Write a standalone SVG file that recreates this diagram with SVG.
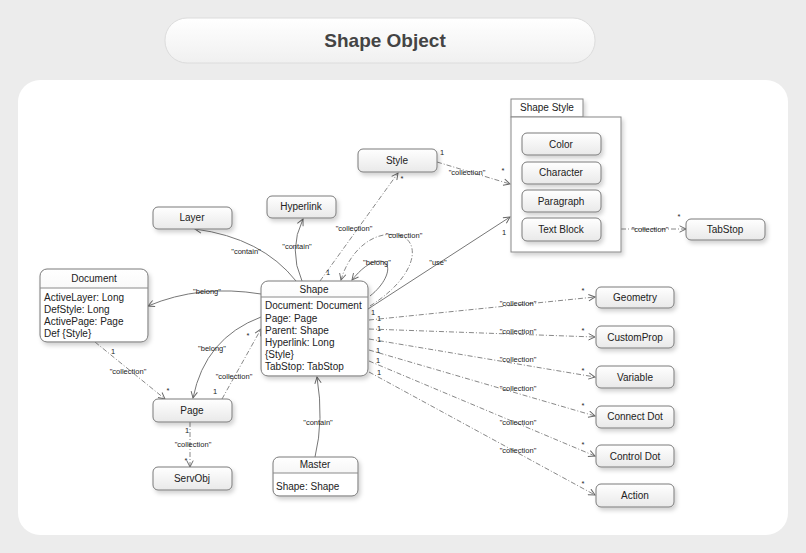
<svg xmlns="http://www.w3.org/2000/svg" width="806" height="553" viewBox="0 0 806 553">
<style>
.node{fill:url(#ng);stroke:#7a7a7a;stroke-width:1;filter:url(#sh)}
.body{fill:#fff;stroke:none}
.sep{stroke:#8a8a8a;stroke-width:1}
.t{font-family:"Liberation Sans",Arial,sans-serif;font-size:10px;fill:#222;text-anchor:middle}
.a{font-family:"Liberation Sans",Arial,sans-serif;font-size:10px;fill:#222}
.l{font-family:"Liberation Sans",Arial,sans-serif;font-size:7.5px;fill:#222;text-anchor:middle}
.s{fill:none;stroke:#777;stroke-width:1;marker-end:url(#ar)}
.d{fill:none;stroke:#888;stroke-width:1;stroke-dasharray:5 2 1 2;marker-end:url(#ar)}
</style>
<defs>
<linearGradient id="ng" x1="0" y1="0" x2="0" y2="1"><stop offset="0" stop-color="#ffffff"/><stop offset="1" stop-color="#e9e9e9"/></linearGradient>
<linearGradient id="tg" x1="0" y1="0" x2="0" y2="1"><stop offset="0" stop-color="#ffffff"/><stop offset="1" stop-color="#f0f0f0"/></linearGradient>
<filter id="sh" x="-20%" y="-20%" width="150%" height="160%"><feDropShadow dx="2" dy="3" stdDeviation="2" flood-color="#000" flood-opacity="0.18"/></filter>
<marker id="ar" viewBox="0 0 10 10" refX="9" refY="5" markerWidth="8" markerHeight="8" markerUnits="userSpaceOnUse" orient="auto"><path d="M1,1 L9,5 L1,9" fill="none" stroke="#666" stroke-width="1.2"/></marker>
</defs>
<rect x="0" y="0" width="806" height="553" fill="#ececec"/>
<rect x="18" y="80" width="770" height="455" rx="22" fill="#ffffff"/>
<g id="title">
<rect x="165" y="18" width="430" height="45" rx="22" fill="url(#tg)" stroke="#dcdcdc"/>
<text x="385" y="47" font-family="Liberation Sans,Arial,sans-serif" font-size="19" font-weight="bold" fill="#444" text-anchor="middle">Shape Object</text>
</g>
<g id="connectors">
<path class="s" d="M296,281 Q262,238 195,229"/>
<text class="l" x="246" y="254">"contain"</text>
<path class="s" d="M302,281 Q288,250 303,219"/>
<text class="l" x="297" y="249">"contain"</text>
<path class="d" d="M320,281 L398,173"/>
<text class="l" x="354" y="231">"collection"</text>
<text class="l" x="328" y="275">1</text>
<text class="l" x="402" y="181">*</text>
<path class="d" d="M370,306 C418,276 422,240 398,235 C370,230 348,255 341,280"/>
<text class="l" x="404" y="238">"collection"</text>
<path class="s" d="M370,296 C388,282 394,262 380,261 C370,261 360,270 352,280"/>
<text class="l" x="377" y="265">"belong"</text>
<path class="s" d="M368,309 L510,217"/>
<text class="l" x="438" y="265">"use"</text>
<text class="l" x="504" y="235">1</text>
<path class="d" d="M437,162 L510,184"/>
<text class="l" x="467" y="175">"collection"</text>
<text class="l" x="442" y="155">1</text>
<text class="l" x="503" y="173">*</text>
<path class="d" d="M601,229 L686,229"/>
<text class="l" x="650" y="232">"collection"</text>
<text class="l" x="613" y="224">1</text>
<text class="l" x="679" y="219">*</text>
<path class="s" d="M261,294 Q200,284 148,306"/>
<text class="l" x="207" y="294">"belong"</text>
<path class="s" d="M261,317 Q205,338 193,398"/>
<text class="l" x="212" y="351">"belong"</text>
<path class="d" d="M222,399 L261,329"/>
<text class="l" x="234" y="379">"collection"</text>
<text class="l" x="215" y="394">1</text>
<text class="l" x="248" y="338">*</text>
<path class="d" d="M95,342 L165,399"/>
<text class="l" x="128" y="374">"collection"</text>
<text class="l" x="113" y="354">1</text>
<text class="l" x="168" y="393">*</text>
<path class="d" d="M190,422 L190,467"/>
<text class="l" x="193" y="447">"collection"</text>
<text class="l" x="187" y="433">1</text>
<text class="l" x="186" y="463">*</text>
<path class="s" d="M315,457 Q324,420 317,377"/>
<text class="l" x="318" y="425">"contain"</text>
<path class="d" d="M369,320 L595,297"/>
<path class="d" d="M369,329 L595,337"/>
<path class="d" d="M369,339 L595,377"/>
<path class="d" d="M369,350 L595,416"/>
<path class="d" d="M369,361 L595,456"/>
<path class="d" d="M369,372 L595,495"/>
<text class="l" x="518" y="306">"collection"</text>
<text class="l" x="518" y="334">"collection"</text>
<text class="l" x="518" y="362">"collection"</text>
<text class="l" x="518" y="391">"collection"</text>
<text class="l" x="518" y="425">"collection"</text>
<text class="l" x="518" y="453">"collection"</text>
<text class="l" x="583" y="293">*</text>
<text class="l" x="583" y="333">*</text>
<text class="l" x="583" y="373">*</text>
<text class="l" x="583" y="408">*</text>
<text class="l" x="583" y="447">*</text>
<text class="l" x="583" y="486">*</text>
<text class="l" x="373" y="315">1</text>
<text class="l" x="379" y="321">1</text>
<text class="l" x="379" y="331">1</text>
<text class="l" x="379" y="342">1</text>
<text class="l" x="378" y="353">1</text>
<text class="l" x="378" y="363">1</text>
<text class="l" x="379" y="375">1</text>
</g>
<g id="style"><rect class="node" x="358" y="149" width="79" height="23" rx="5"/><text class="t" x="397" y="164">Style</text></g>
<g id="shape-style">
<rect x="511" y="99" width="72" height="18" fill="#fff" stroke="#888" filter="url(#sh)"/>
<rect x="511" y="117" width="110" height="135" fill="#fff" stroke="#888" filter="url(#sh)"/>
<text class="a" x="520" y="111" font-size="9">Shape Style</text>
</g>
<g id="color"><rect class="node" x="522" y="133" width="79" height="22" rx="5"/><text class="t" x="561" y="148">Color</text></g>
<g id="character"><rect class="node" x="522" y="162" width="79" height="22" rx="5"/><text class="t" x="561" y="176">Character</text></g>
<g id="paragraph"><rect class="node" x="522" y="190" width="79" height="22" rx="5"/><text class="t" x="561" y="205">Paragraph</text></g>
<g id="textblock"><rect class="node" x="522" y="218" width="79" height="23" rx="5"/><text class="t" x="561" y="233">Text Block</text></g>
<g id="tabstop"><rect class="node" x="686" y="219" width="79" height="21" rx="5"/><text class="t" x="725" y="233">TabStop</text></g>
<g id="layer"><rect class="node" x="153" y="207" width="79" height="22" rx="5"/><text class="t" x="192" y="221">Layer</text></g>
<g id="hyperlink"><rect class="node" x="267" y="196" width="69" height="22" rx="5"/><text class="t" x="301" y="210">Hyperlink</text></g>
<g id="shape">
<rect class="node" x="261" y="281" width="107" height="95" rx="7"/>
<path class="body" d="M262,297 H367 V369 Q367,375 361,375 H268 Q262,375 262,369 Z"/>
<line class="sep" x1="261" y1="297" x2="368" y2="297"/>
<text class="t" x="314" y="293">Shape</text>
<text class="a" x="265" y="309">Document: Document</text>
<text class="a" x="265" y="322">Page: Page</text>
<text class="a" x="265" y="334">Parent: Shape</text>
<text class="a" x="265" y="346">Hyperlink: Long</text>
<text class="a" x="265" y="358">{Style}</text>
<text class="a" x="265" y="370">TabStop: TabStop</text>
</g>
<g id="document">
<rect class="node" x="40" y="269" width="108" height="73" rx="7"/>
<path class="body" d="M41,288 H147 V335 Q147,341 141,341 H47 Q41,341 41,335 Z"/>
<line class="sep" x1="40" y1="288" x2="148" y2="288"/>
<text class="t" x="94" y="282">Document</text>
<text class="a" x="44" y="301">ActiveLayer: Long</text>
<text class="a" x="44" y="313">DefStyle: Long</text>
<text class="a" x="44" y="325">ActivePage: Page</text>
<text class="a" x="44" y="337">Def {Style}</text>
</g>
<g id="page"><rect class="node" x="153" y="399" width="79" height="23" rx="5"/><text class="t" x="192" y="414">Page</text></g>
<g id="servobj"><rect class="node" x="153" y="467" width="79" height="23" rx="5"/><text class="t" x="192" y="482">ServObj</text></g>
<g id="master">
<rect class="node" x="273" y="457" width="85" height="39" rx="6"/>
<path class="body" d="M274,473 H357 V490 Q357,495 352,495 H279 Q274,495 274,490 Z"/>
<line class="sep" x1="273" y1="473" x2="358" y2="473"/>
<text class="t" x="315" y="468">Master</text>
<text class="a" x="276" y="490">Shape: Shape</text>
</g>
<g id="geometry"><rect class="node" x="596" y="287" width="78" height="21" rx="5"/><text class="t" x="635" y="301">Geometry</text></g>
<g id="customprop"><rect class="node" x="596" y="326" width="78" height="22" rx="5"/><text class="t" x="635" y="341">CustomProp</text></g>
<g id="variable"><rect class="node" x="596" y="366" width="78" height="22" rx="5"/><text class="t" x="635" y="381">Variable</text></g>
<g id="connectdot"><rect class="node" x="596" y="406" width="78" height="22" rx="5"/><text class="t" x="635" y="420">Connect Dot</text></g>
<g id="controldot"><rect class="node" x="596" y="445" width="78" height="22" rx="5"/><text class="t" x="635" y="460">Control Dot</text></g>
<g id="action"><rect class="node" x="596" y="484" width="78" height="23" rx="5"/><text class="t" x="635" y="499">Action</text></g>
</svg>
